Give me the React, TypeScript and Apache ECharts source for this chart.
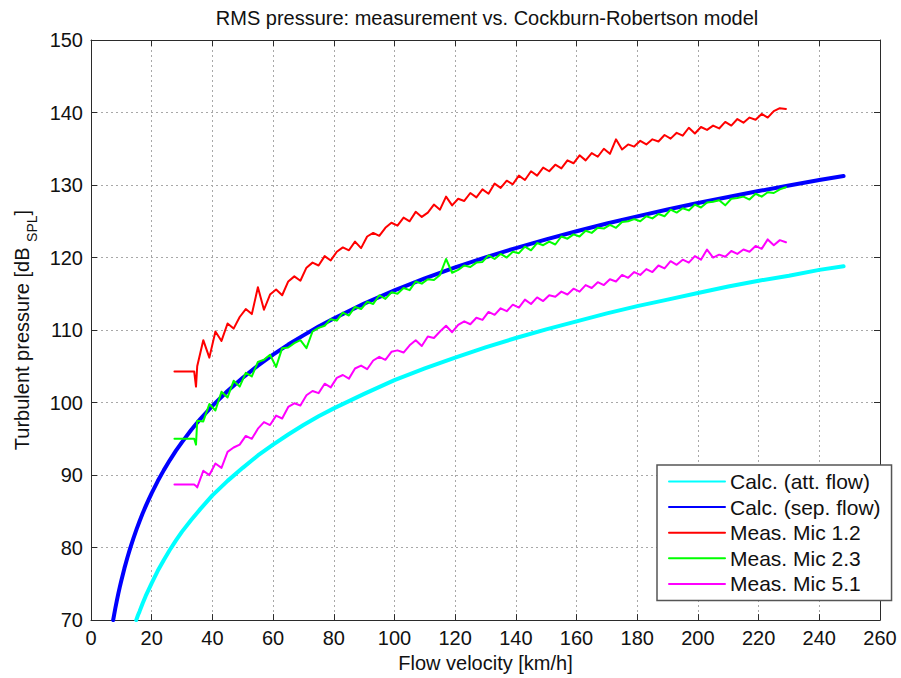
import React, { useEffect, useRef } from "react";
import * as echarts from "echarts";

const FONT = '"Liberation Sans", Arial, Helvetica, sans-serif';

const titleText = "RMS pressure: measurement vs. Cockburn-Robertson model";
const xName = "Flow velocity [km/h]";
const seriesNames = [
  "Calc. (att. flow)",
  "Calc. (sep. flow)",
  "Meas. Mic 1.2",
  "Meas. Mic 2.3",
  "Meas. Mic 5.1",
];
const seriesColors = ["#00FFFF", "#0000FF", "#FF0000", "#00FF00", "#FF00FF"];

// Calculated model curves
const calcSepVelocity = [7.3, 7.6, 8, 8.5, 9, 9.5, 10, 11, 12, 13, 14, 15, 16, 17, 18, 19, 20, 22, 24, 26, 28, 30, 33, 36, 40, 45, 50, 55, 60, 65, 70, 75, 80, 90, 100, 110, 120, 130, 140, 150, 160, 170, 180, 190, 200, 210, 220, 230, 240, 248];
const calcSepPressure = [70.0, 70.7, 71.6, 72.65, 73.64, 74.58, 75.47, 77.13, 78.64, 80.03, 81.31, 82.51, 83.63, 84.69, 85.68, 86.62, 87.51, 89.17, 90.68, 92.07, 93.36, 94.55, 96.21, 97.72, 99.55, 101.6, 103.43, 105.1, 106.6, 108.0, 109.27, 110.5, 111.59, 113.64, 115.47, 117.13, 118.64, 120.03, 121.31, 122.51, 123.63, 124.69, 125.68, 126.62, 127.51, 128.36, 129.17, 129.94, 130.68, 131.25];

const calcAttVelocity = [14.9, 15.5, 16, 17, 18, 19, 20, 22, 24, 26, 28, 30, 33, 36, 40, 45, 50, 55, 60, 65, 70, 75, 80, 90, 100, 110, 120, 130, 140, 150, 160, 170, 180, 190, 200, 210, 220, 230, 240, 248];
const calcAttPressure = [70.0, 70.7, 71.2, 72.3, 73.3, 74.2, 75.1, 76.8, 78.3, 79.7, 81.0, 82.2, 83.8, 85.3, 87.2, 89.2, 91.0, 92.7, 94.2, 95.6, 96.9, 98.1, 99.2, 101.2, 103.1, 104.7, 106.2, 107.6, 108.9, 110.1, 111.2, 112.3, 113.3, 114.2, 115.1, 116.0, 116.8, 117.5, 118.3, 118.8];

// Measurements (shared velocity axis)
const measVelocity = [
  27.5, 34, 34.6, 35, 37, 39, 41, 43, 45, 47,
  49, 51, 53, 55, 57, 59, 61, 63, 65, 67,
  69, 71, 73, 75, 77, 79, 81, 83, 85, 87,
  89, 91, 93, 95, 97, 99, 101, 103, 105, 107,
  109, 111, 113, 115, 117, 119, 121, 123, 125, 127,
  129, 131, 133, 135, 137, 139, 141, 143, 145, 147,
  149, 151, 153, 155, 157, 159, 161, 163, 165, 167,
  169, 171, 173, 175, 177, 179, 181, 183, 185, 187,
  189, 191, 193, 195, 197, 199, 201, 203, 205, 207,
  209, 211, 213, 215, 217, 219, 221, 223, 225, 227,
  229,
];

const micRed = [
  104.3, 104.3, 102.2, 105.0, 108.6, 106.2, 109.8, 108.5, 110.9, 110.2,
  111.8, 112.9, 112.2, 115.9, 112.8, 114.9, 115.6, 114.8, 116.7, 117.4,
  116.8, 118.6, 119.3, 118.9, 120.2, 119.6, 120.8, 121.4, 121.0, 122.2,
  121.3, 122.9, 123.4, 123.0, 124.1, 124.8, 124.4, 125.5, 125.0, 126.3,
  125.6, 126.2, 127.3, 126.6, 128.4, 127.2, 128.1, 127.8, 128.9, 128.3,
  129.4, 128.8, 130.2, 129.6, 130.6, 130.1, 131.3, 130.7, 131.9, 131.3,
  132.4, 131.9, 132.8, 132.3, 133.4, 133.0, 134.1, 133.4, 134.4, 133.9,
  135.0, 134.3, 136.3, 134.9, 135.6, 135.3, 136.1, 135.6, 136.3, 136.0,
  136.9, 136.4, 137.2, 136.8, 137.9, 137.1, 138.0, 137.6, 138.2, 137.8,
  138.7, 138.2, 139.1, 138.6, 139.3, 139.0, 139.8, 139.3, 140.2, 140.6,
  140.5,
];

const micGreen = [
  95.0, 95.0, 94.2, 97.5, 97.4, 99.8, 98.9, 101.5, 100.7, 103.0,
  102.2, 104.1, 103.6, 105.6, 105.9, 106.6, 104.9, 107.5, 107.6, 108.2,
  108.6, 107.5, 109.8, 110.3, 110.6, 111.5, 111.3, 112.4, 112.0, 113.2,
  112.9, 113.9, 113.6, 114.8, 114.3, 115.2, 115.0, 115.8, 115.5, 116.7,
  116.4, 117.0, 116.9, 117.6, 119.8, 117.9, 118.3, 118.9, 118.7, 119.3,
  119.4, 120.3, 119.8, 120.5, 120.0, 120.8, 120.6, 121.5, 121.0, 122.0,
  121.7, 122.2, 121.8, 122.9, 122.6, 123.2, 122.9, 123.7, 123.4, 124.1,
  124.0, 124.5, 124.1, 124.9, 125.0, 125.3, 125.0, 125.7, 125.4, 126.0,
  125.7, 126.6, 126.2, 126.8, 126.5, 127.3, 126.9, 127.6, 127.7, 127.9,
  127.2, 128.1, 128.2, 128.4, 128.0, 128.8, 128.4, 129.0, 128.9, 129.4,
  129.7,
];

const micMagenta = [
  88.7, 88.7, 88.5, 88.3, 90.6, 90.0, 91.6, 91.0, 93.2, 93.8,
  94.2, 95.4, 95.0, 96.4, 97.3, 96.9, 98.2, 97.8, 99.4, 99.9,
  99.6, 101.0, 101.6, 101.3, 102.6, 102.1, 103.4, 103.8, 103.3, 104.7,
  105.1, 104.6, 105.8, 106.3, 105.9, 107.0, 107.2, 106.9, 107.9, 108.6,
  107.8, 109.1, 108.9, 109.8, 110.6, 109.7, 110.7, 111.2, 110.8, 111.7,
  111.4, 112.5, 112.1, 113.0, 112.6, 113.5, 113.1, 114.2, 113.6, 114.5,
  114.0, 114.8, 114.6, 115.3, 114.9, 115.7, 115.3, 116.2, 115.8, 116.6,
  116.2, 117.0, 116.7, 117.6, 117.2, 118.0, 117.6, 118.4, 118.0, 118.9,
  118.5, 119.5, 119.0, 119.7, 119.3, 120.2, 119.7, 121.1, 120.0, 120.4,
  120.1, 120.9, 120.5, 121.1, 120.8, 121.6, 121.2, 122.5, 121.7, 122.4,
  122.1,
];

const zip = (xs: number[], ys: number[]) => xs.map((x, i) => [x, ys[i]]);

const AXIS_COLOR = "#2b2b2b";
const TEXT_COLOR = "#111";

function lineSeries(idx: number, data: number[][], width: number) {
  return {
    name: seriesNames[idx],
    type: "line",
    data,
    showSymbol: false,
    symbol: "none",
    silent: true,
    lineStyle: { color: seriesColors[idx], width, join: "round", cap: "round" },
    itemStyle: { color: seriesColors[idx] },
  };
}

function buildOption() {
  const boxAxisCommon = {
    axisLine: { show: true, onZero: false, lineStyle: { color: AXIS_COLOR, width: 1 } },
    axisTick: { show: true, inside: true, length: 6, lineStyle: { color: AXIS_COLOR } },
  };
  const gridLine = { show: true, lineStyle: { color: "#a8a8a8", width: 1, type: [2, 3] } };

  return {
    animation: false,
    backgroundColor: "#ffffff",
    textStyle: { fontFamily: FONT },
    grid: { left: 91, right: 21, top: 40, bottom: 52, containLabel: false },
    graphic: [
      {
        type: "text",
        x: 487,
        y: 18,
        silent: true,
        style: {
          text: titleText,
          fontSize: 20,
          fontFamily: FONT,
          fill: TEXT_COLOR,
          align: "center",
          verticalAlign: "middle",
        },
      },
    ],
    legend: {
      orient: "vertical",
      left: 657,
      top: 465,
      backgroundColor: "#ffffff",
      borderColor: "#555",
      borderWidth: 1.5,
      borderRadius: 0,
      padding: [6, 11, 6, 11],
      itemWidth: 56,
      itemHeight: 14,
      itemGap: 4.6,
      selectedMode: false,
      itemStyle: { opacity: 0 },
      textStyle: { fontSize: 21, color: TEXT_COLOR, fontFamily: FONT, lineHeight: 21 },
      data: seriesNames,
      z: 10,
    },
    xAxis: [
      {
        type: "value",
        min: 0,
        max: 260,
        interval: 20,
        name: xName,
        nameLocation: "middle",
        nameGap: 29,
        nameTextStyle: { fontSize: 20, color: TEXT_COLOR, fontFamily: FONT },
        ...boxAxisCommon,
        axisLabel: { fontSize: 20, color: TEXT_COLOR, margin: 8, fontFamily: FONT },
        splitLine: gridLine,
      },
      {
        type: "value",
        position: "top",
        min: 0,
        max: 260,
        interval: 20,
        ...boxAxisCommon,
        axisLabel: { show: false },
        splitLine: { show: false },
      },
    ],
    yAxis: [
      {
        type: "value",
        min: 70,
        max: 150,
        interval: 10,
        name: "{a|Turbulent pressure [dB }{s|SPL}{a|]}",
        nameLocation: "middle",
        nameGap: 52,
        nameRotate: 90,
        nameTextStyle: {
          rich: {
            a: { fontSize: 20, color: TEXT_COLOR, fontFamily: FONT, lineHeight: 20, verticalAlign: "middle" },
            s: { fontSize: 14, color: TEXT_COLOR, fontFamily: FONT, lineHeight: 34, verticalAlign: "bottom" },
          },
        },
        ...boxAxisCommon,
        axisLabel: { fontSize: 20, color: TEXT_COLOR, margin: 8, fontFamily: FONT },
        splitLine: gridLine,
      },
      {
        type: "value",
        position: "right",
        min: 70,
        max: 150,
        interval: 10,
        ...boxAxisCommon,
        axisLabel: { show: false },
        splitLine: { show: false },
      },
    ],
    series: [
      lineSeries(0, zip(calcAttVelocity, calcAttPressure), 4),
      lineSeries(1, zip(calcSepVelocity, calcSepPressure), 4),
      lineSeries(2, zip(measVelocity, micRed), 2),
      lineSeries(3, zip(measVelocity, micGreen), 2),
      lineSeries(4, zip(measVelocity, micMagenta), 2),
    ],
  };
}

export default function App() {
  const ref = useRef<HTMLDivElement>(null);
  useEffect(() => {
    if (!ref.current) return;
    const chart = echarts.init(ref.current, null, { renderer: "svg" });
    chart.setOption(buildOption() as any);
    return () => chart.dispose();
  }, []);
  return (
    <div
      ref={ref}
      style={{ position: "fixed", left: 0, top: 0, width: 901, height: 678, background: "#fff" }}
    />
  );
}
